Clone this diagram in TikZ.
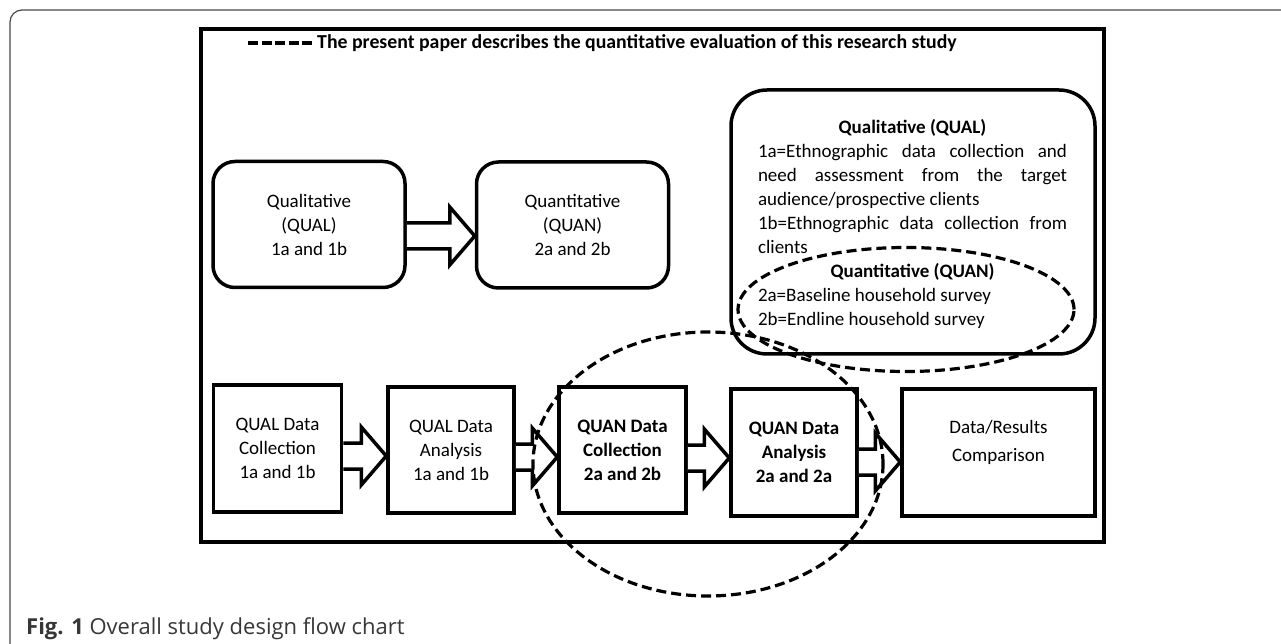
\documentclass[tikz,border=0pt]{standalone}
\usepackage{fontspec}
\setmainfont{Carlito}
\newfontfamily\capfont{Open Sans}
\usetikzlibrary{calc}
\definecolor{capgrey}{RGB}{55,55,55}
\definecolor{framegrey}{RGB}{70,70,70}
\tikzset{
	roundbox/.style={draw, line width=3.5pt, rounded corners=22pt, align=center, font=\fontsize{19}{24}\selectfont},
	databox/.style={draw, line width=3.5pt, align=center, font=\fontsize{19}{24}\selectfont},
	fatarrow/.style={draw, line width=3.5pt, fill=white, line join=miter},
	circled/.style={draw, line width=3.2pt, dash pattern=on 10pt off 5pt}
}
% block arrow from #1 to #2, its axis at height #3
\newcommand{\fatarrow}[3]{%
	\coordinate (axis) at (0,#3);
	\draw[fatarrow] ($(#1.east |- axis)+(0,13)$) -- ($(#2.west |- axis)+(-25,13)$) -- ++(0,16)
		-- (#2.west |- axis) -- ++(-25,-29) -- ++(0,16) -- ($(#1.east |- axis)+(0,-13)$);
}
\begin{document}
\begin{tikzpicture}[x=1pt, y=1pt]
	\useasboundingbox (0,0) rectangle (1281,643);
	\clip (0,0) rectangle (1281,643);
	\draw[framegrey, line width=1.2pt, rounded corners=12pt] (10,-30) -- (10,633) -- (1320,633);
	\draw[line width=3.5pt] (201,101) rectangle (1104,614);
	% legend
	\node[anchor=west, inner sep=0pt, font=\fontsize{19.8}{22}\selectfont\bfseries] (title) at (317,600)
		{The present paper describes the quantitative evaluation of this research study};
	\draw[line width=3.5pt, dash pattern=on 10pt off 3.5pt] (248,600) -- ($(title.west)+(-5,0)$);
	% overview boxes
	\node[roundbox, minimum width=192, minimum height=126] (qual) at (309,418.5) {Qualitative\\(QUAL)\\1a and 1b};
	\node[roundbox, minimum width=192, minimum height=126] (quan) at (572.5,418) {Quantitative\\(QUAN)\\2a and 2b};
	\fatarrow{qual}{quan}{407}
	\node[draw, line width=3.5pt, rounded corners=36pt, minimum width=364, minimum height=264] (legendbox) at (913,421) {};
	\node[align=justify, text width=309, inner sep=0pt, font=\fontsize{19}{24}\selectfont] (defs) at (912.5,419) {%
		\parindent=0pt
		\centerline{\bfseries Qualitative (QUAL)}
		1a=Ethnographic data collection and\linebreak need assessment from the target\linebreak audience/prospective clients\par
		1b=Ethnographic data collection from\linebreak clients\par
		\centerline{\bfseries Quantitative (QUAN)}
		2a=Baseline household survey\par
		2b=Endline household survey};
	% study steps
	\node[databox, minimum width=128, minimum height=127] (qualcol) at (277.5,194.5) {QUAL Data\\Collection\\1a and 1b};
	\node[databox, minimum width=126, minimum height=126] (qualana) at (451,193) {QUAL Data\\Analysis\\1a and 1b};
	\node[databox, minimum width=127, minimum height=126, font=\fontsize{19}{24}\selectfont\bfseries] (quancol) at (622.5,193) {QUAN Data\\Collection\\2a and 2b};
	\node[databox, minimum width=126, minimum height=127, font=\fontsize{19}{24}\selectfont\bfseries] (quanana) at (794,190.5) {QUAN Data\\Analysis\\2a and 2a};
	\node[databox, minimum width=193, minimum height=127] (compare) at (998.5,190.5) {Data/Results\\[4pt]Comparison\\[0pt]\mbox{}};
	\fatarrow{qualcol}{qualana}{187}
	\fatarrow{qualana}{quancol}{186}
	\fatarrow{quancol}{quanana}{185}
	\fatarrow{quanana}{compare}{181}
	% quantitative part
	\draw[circled] (906,333.5) ellipse [x radius=168, y radius=62];
	\draw[circled] (708,179) ellipse [x radius=175, y radius=132];
	\node[anchor=base west, inner sep=0pt, text=capgrey, font=\capfont\fontsize{22}{24}\selectfont] (caption) at (26,9)
		{\textbf{Fig. 1} Overall study design flow chart};
\end{tikzpicture}
\end{document}
